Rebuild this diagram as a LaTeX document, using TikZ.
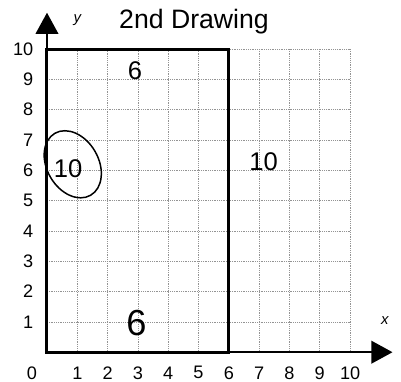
\documentclass[tikz,border=0pt]{standalone}
\usepackage{fontspec}
\setmainfont{Liberation Sans}
\usetikzlibrary{arrows.meta}
\begin{document}
\begin{tikzpicture}[
gridline/.style={gray!85, densely dotted, line width=0.7pt},
axis/.style={line width=1.6pt, -{Triangle[length=0.7cm, width=0.75cm]}},
tick/.style={font=\fontsize{17}{17}\selectfont},
hand/.style={font=\fontsize{24}{24}\selectfont}
]
\useasboundingbox (-1.55,-0.96) rectangle (11.68,11.62);
\coordinate (O) at (0,0);
\coordinate (xend) at (11.4,0);
\coordinate (yend) at (0,11.2);
% grid
\draw[gridline] (0,0) grid (10,10);
% the rectangle
\draw[line width=2.8pt] (0,0) rectangle (6,10);
% axes
\draw[axis] (O) -- (xend);
\draw[axis] (O) -- (yend);
\foreach \i in {1,...,10} {
    \node[tick] (x\i) at (\i,-0.68) {\i};
    \node[tick, anchor=east] (y\i) at (-0.33,\i) {\i};
}
\node[tick] (x0) at (-0.5,-0.68) {0};
\node[font=\itshape\fontsize{14}{14}\selectfont] (ylab) at (1,10.95) {y};
\node[font=\itshape\fontsize{14}{14}\selectfont] (xlab) at (11.15,1.05) {x};
\node[font=\fontsize{25}{25}\selectfont] (title) at (4.85,10.9) {2nd Drawing};
% side lengths
\node[hand] (top) at (2.9,9.3) {6};
\node[hand, font=\fontsize{34}{34}\selectfont] (bottom) at (2.95,0.95) {6};
\node[hand] (right) at (7.15,6.3) {10};
\node[hand] (left) at (0.7,6.05) {10};
\draw[line width=1.4pt, rotate around={30:(0.85,6.2)}] (0.85,6.2) ellipse (0.85cm and 1.18cm);
\end{tikzpicture}
\end{document}
